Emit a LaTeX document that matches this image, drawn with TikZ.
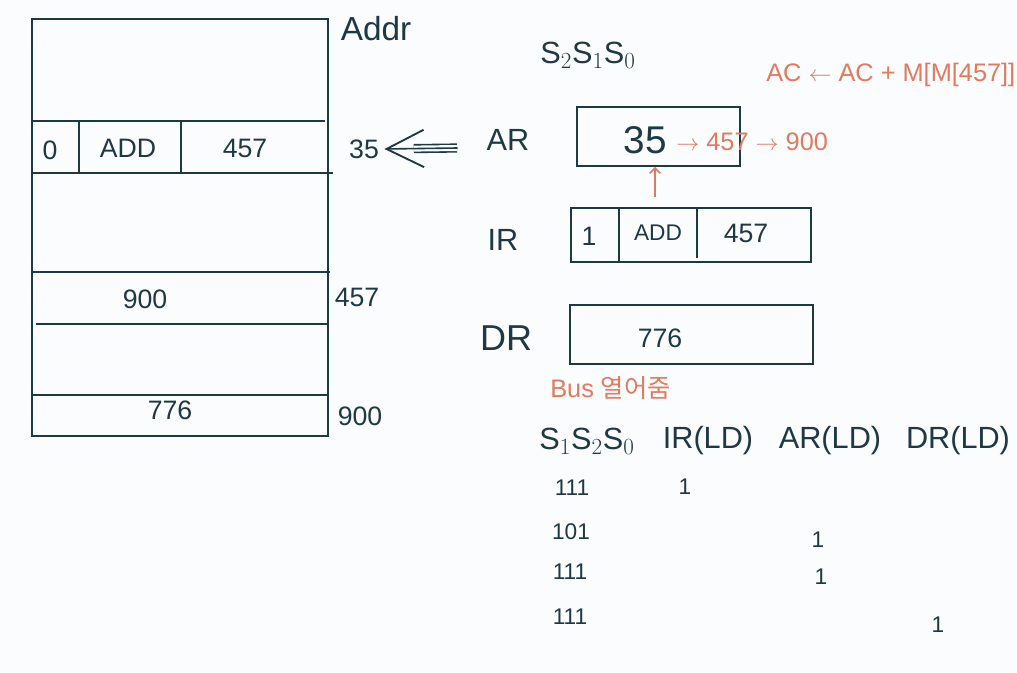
\documentclass[tikz,border=0pt]{standalone}
\usepackage{fontspec}
\setmainfont{Liberation Sans}
\newfontfamily\krfont{Noto Sans CJK KR}
\usetikzlibrary{fit,arrows.meta}
\definecolor{ink}{HTML}{1E3945}
\definecolor{pen}{HTML}{E07A60}
\definecolor{paper}{HTML}{FBFCFD}
\tikzset{
  txt/.style={text=ink, inner sep=0pt, font=\fontsize{20}{22}\selectfont},
  small/.style={text=ink, inner sep=0pt, font=\fontsize{17}{19}\selectfont},
  big/.style={text=ink, inner sep=0pt, font=\fontsize{23}{25}\selectfont},
  huge/.style={text=ink, inner sep=0pt, font=\fontsize{29}{31}\selectfont},
  otxt/.style={text=pen, inner sep=0pt, font=\fontsize{19}{21}\selectfont},
  line/.style={draw=ink, line width=1.4pt},
  regbox/.style={draw=ink, line width=1.4pt, inner sep=0pt},
}
\begin{document}
\begin{tikzpicture}[x=0.75pt,y=-0.75pt]
\fill[paper] (0,0) rectangle (1017,672);
\useasboundingbox (0,0) rectangle (1017,672);

% memory
\draw[line] (32,19) rectangle (328,436);
\draw[line] (32,121) -- (325,121);
\draw[line] (32,173) -- (333,173);
\draw[line] (32,272) -- (330,272);
\draw[line] (36,324) -- (327,324);
\draw[line] (32,395) -- (328,395);
\draw[line] (79,121) -- (79,173);
\draw[line] (181,121) -- (181,173);
\node[txt] (m0) at (50,150) {0};
\node[txt] (madd) at (128,148) {ADD};
\node[txt] (m457) at (245,148) {457};
\node[txt] (m900) at (145,299) {900};
\node[txt] (m776) at (170,410) {776};
\node[big, font=\fontsize{25}{27}\selectfont] (addr) at (376,29) {Addr};
\node[txt] (a35) at (364,149) {35};
\node[txt] (a457) at (357,297) {457};
\node[txt] (a900) at (360,416) {900};
\coordinate (arrtail) at (457,148);
\draw[ink, line width=1.2pt, double=paper, double distance=4.5pt, shorten >=22pt] (arrtail) -- ([xshift=4pt]a35.east);
\draw[ink, line width=1.2pt, line cap=round, -{Straight Barb[length=28pt,width=28pt,line width=1.4pt]}] (arrtail) -- ([xshift=4pt]a35.east);

% registers
\node[big] (s210) at (588,55) {S$_2$S$_1$S$_0$};
\node[big] (arl) at (508,140) {AR};
\node[regbox, fit={(577,107) (740,166)}] (arbox) {};
\node[huge] (ar35) at (645,140) {35};
\node[otxt, anchor=west] (arflow) at (676,142) {$\rightarrow$ 457 $\rightarrow$ 900};
\node[otxt, anchor=west] (formula) at (766,75) {AC $\leftarrow$ AC + M[M[457]]};

\node[big] (irl) at (503,240) {IR};
\node[regbox, fit={(571,208) (811,262)}] (irbox) {};
\draw[line] (619,208) -- (619,262);
\draw[line] (697,208) -- (697,258);
\node[txt] (ir1) at (589,236) {1};
\node[small] (iradd) at (658,233) {ADD};
\node[txt] (ir457) at (746,233) {457};
\coordinate (irtop) at (655,197);
\draw[pen, line width=1.2pt, -{Straight Barb[length=4pt]}] (irtop) -- (arbox.south -| irtop);

\node[big, font=\fontsize{27}{29}\selectfont] (drl) at (506,338) {DR};
\node[regbox, fit={(570,305) (813,364)}] (drbox) {};
\node[txt] (dr776) at (660,338) {776};

% table
\node[otxt, anchor=west] (bus) at (550,388) {Bus {\krfont 열어줌}};
\node[big] (h0) at (587,441) {S$_1$S$_2$S$_0$};
\node[big] (h1) at (708,441) {IR(LD)};
\node[big] (h2) at (830,441) {AR(LD)};
\node[big] (h3) at (958,441) {DR(LD)};

\node[small] (r1a) at (572,488) {111};
\node[small] (r1b) at (685,487) {1};
\node[small] (r2a) at (571,532) {101};
\node[small] (r2b) at (818,540) {1};
\node[small] (r3a) at (570,572) {111};
\node[small] (r3b) at (821,577) {1};
\node[small] (r4a) at (570,617) {111};
\node[small] (r4b) at (938,625) {1};
\end{tikzpicture}
\end{document}
